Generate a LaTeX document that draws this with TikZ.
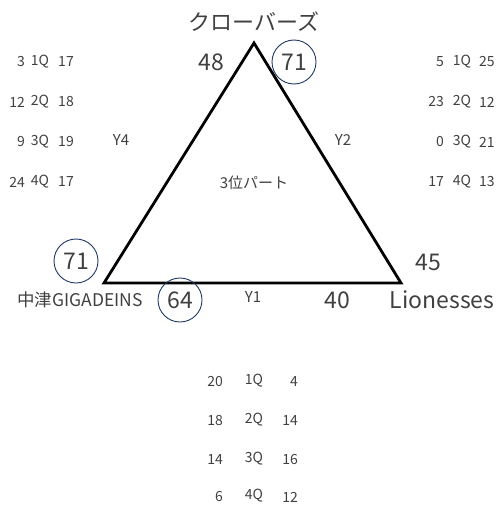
\documentclass[tikz,border=0pt]{standalone}
\usepackage{fontspec}
\setmainfont{Noto Sans CJK JP}
\usetikzlibrary{positioning}
\definecolor{ringnavy}{HTML}{1F3864}
\definecolor{inkgray}{HTML}{404040}

\begin{document}
\begin{tikzpicture}[x=1pt, y=-1pt,
    every node/.style={text=inkgray, inner sep=0pt},
    big/.style={font=\fontsize{23}{23}\selectfont},
    mid/.style={font=\fontsize{15}{15}\selectfont},
    qtr/.style={font=\fontsize{14}{14}\selectfont},
    ring/.style={circle, draw=ringnavy, line width=0.9pt, minimum size=44pt}]
  \useasboundingbox (0,0) rectangle (497,511);
  % triangle of the three teams
  \coordinate (top) at (254,43);
  \coordinate (bl) at (104,283);
  \coordinate (br) at (401,283);
  \draw[line width=2.8pt] (top) -- (br) -- (bl) -- cycle;
  % teams
  \node[big, font=\fontsize{22}{22}\selectfont] (clovers) at (254,22) {クローバーズ};
  \node[mid, font=\fontsize{17.5}{17.5}\selectfont] (nakatsu) at (80,300) {中津GIGADEINS};
  \node[big] (lioness) at (442,300) {Lionesses};
  \node[mid] (part) at (254,183) {3位パート};
  % match labels
  \node[mid] (y4) at (121,140) {Y4};
  \node[mid] (y2) at (343,140) {Y2};
  \node[mid] (y1) at (253,297) {Y1};
  % scores
  \node[big] (s48) at (211,62) {48};
  \node[big, ring] (s71a) at (294,62) {71};
  \node[big, ring] (s71b) at (76,261) {71};
  \node[big, ring] (s64) at (180,300) {64};
  \node[big] (s40) at (337,300) {40};
  \node[big] (s45) at (428,262) {45};
  % quarter scores, Y4
  \foreach \q/\a/\b [count=\i] in {1/3/17, 2/12/18, 3/9/19, 4/24/17} {
    \node[qtr, anchor=east] (la\q) at (25,22+40*\i) {\a};
    \node[qtr] (lq\q) at (40,22+40*\i) {\q Q};
    \node[qtr] (lb\q) at (66,22+40*\i) {\b};
  }
  % quarter scores, Y2
  \foreach \q/\a/\b [count=\i] in {1/5/25, 2/23/12, 3/0/21, 4/17/13} {
    \node[qtr, anchor=east] (ra\q) at (444,22+40*\i) {\a};
    \node[qtr] (rq\q) at (462,22+40*\i) {\q Q};
    \node[qtr, anchor=west] (rb\q) at (479,22+40*\i) {\b};
  }
  % quarter scores, Y1
  \foreach \q/\a/\b/\y in {1/20/4/382, 2/18/14/421, 3/14/16/460, 4/6/12/497} {
    \node[qtr, anchor=east] (ba\q) at (223,\y) {\a};
    \node[qtr] (bq\q) at (254,\y-1) {\q Q};
    \node[qtr, anchor=east] (bb\q) at (298,\y) {\b};
  }
\end{tikzpicture}
\end{document}
